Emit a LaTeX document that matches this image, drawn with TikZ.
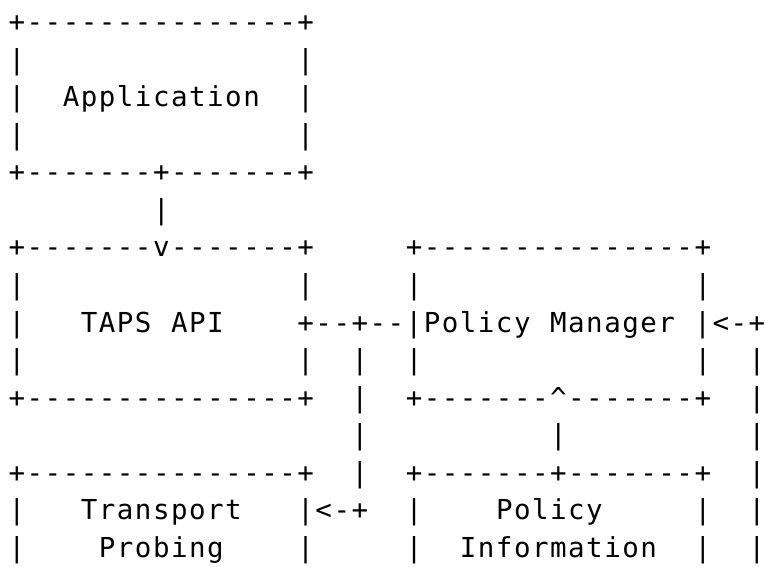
\documentclass[tikz,border=0pt]{standalone}
\usepackage{fontspec}
\newfontfamily\gridfont{DejaVu Sans Mono}

% Typeset a string one character per fixed-width cell (character grid)
\ExplSyntaxOn
\NewDocumentCommand\cells{m}{
  \str_map_inline:nn {#1} { \makebox[18.05pt][c]{##1} }
}
\ExplSyntaxOff

\tikzset{
  cell/.style={anchor=base west, inner sep=0pt, outer sep=0pt,
    font=\gridfont\fontsize{27.5}{30}\selectfont, text=black}
}
% \gridput{name}{column}{row}{text}
\newcommand\gridput[4]{%
  \node[cell] (#1) at ({7.9+#2*18.05},{566-32-(#3-1)*37.5}) {\cells{#4}};}

\begin{document}
\begin{tikzpicture}[x=1pt,y=1pt]
\useasboundingbox[fill=white] (0,0) rectangle (766,566);

% Application box
\gridput{appTop}{0}{1}{+---------------+}
\gridput{appL2}{0}{2}{|}
\gridput{appR2}{16}{2}{|}
\gridput{appL3}{0}{3}{|}
\gridput{app}{3}{3}{Application}
\gridput{appR3}{16}{3}{|}
\gridput{appL4}{0}{4}{|}
\gridput{appR4}{16}{4}{|}
\gridput{appBot}{0}{5}{+-------+-------+}
\gridput{appDown}{8}{6}{|}

% TAPS API box and Policy Manager box
\gridput{apiTop}{0}{7}{+-------v-------+}
\gridput{pmTop}{22}{7}{+---------------+}
\gridput{apiL8}{0}{8}{|}
\gridput{apiR8}{16}{8}{|}
\gridput{pmL8}{22}{8}{|}
\gridput{pmR8}{38}{8}{|}
\gridput{apiL9}{0}{9}{|}
\gridput{api}{4}{9}{TAPS API}
\gridput{pm}{16}{9}{+--+--|Policy Manager |<-+}
\gridput{apiL10}{0}{10}{|}
\gridput{apiR10}{16}{10}{|}
\gridput{lnkA10}{19}{10}{|}
\gridput{pmL10}{22}{10}{|}
\gridput{pmR10}{38}{10}{|}
\gridput{lnkB10}{41}{10}{|}
\gridput{apiBot}{0}{11}{+---------------+}
\gridput{lnkA11}{19}{11}{|}
\gridput{pmBot}{22}{11}{+-------^-------+}
\gridput{lnkB11}{41}{11}{|}
\gridput{lnkA12}{19}{12}{|}
\gridput{piUp}{30}{12}{|}
\gridput{lnkB12}{41}{12}{|}

% Transport Probing box and Policy Information box
\gridput{tpTop}{0}{13}{+---------------+}
\gridput{lnkA13}{19}{13}{|}
\gridput{piTop}{22}{13}{+-------+-------+}
\gridput{lnkB13}{41}{13}{|}
\gridput{tpL14}{0}{14}{|}
\gridput{tp}{4}{14}{Transport}
\gridput{tpR14}{16}{14}{|<-+}
\gridput{piL14}{22}{14}{|}
\gridput{pi}{27}{14}{Policy}
\gridput{piR14}{38}{14}{|}
\gridput{lnkB14}{41}{14}{|}
\gridput{tpL15}{0}{15}{|}
\gridput{tp2}{5}{15}{Probing}
\gridput{tpR15}{16}{15}{|}
\gridput{piL15}{22}{15}{|}
\gridput{pi2}{25}{15}{Information}
\gridput{piR15}{38}{15}{|}
\gridput{lnkB15}{41}{15}{|}
\end{tikzpicture}
\end{document}
